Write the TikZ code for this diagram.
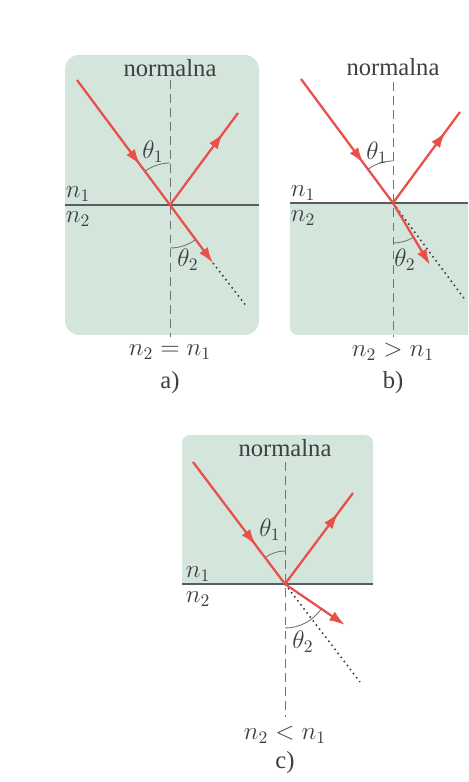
\documentclass[tikz,border=0pt]{standalone}
\usepackage{amsmath,amssymb}
\usepackage{fontspec}
\setmainfont{Liberation Serif}
\usepackage{xcolor}
\usepackage{tikz}
\usetikzlibrary{calc,angles,arrows.meta,decorations.markings}
\definecolor{paper}{HTML}{FFFFFF}
\definecolor{medium}{HTML}{D4E6DC}
\definecolor{ray}{HTML}{E9504A}
\definecolor{ink}{HTML}{3C4045}
\definecolor{muted}{HTML}{6E7479}
\tikzset{
  boxfill/.style={fill=medium},
  iface/.style={draw=muted!80!black, line width=0.9pt},
  normal/.style={draw=muted, dashed, dash pattern=on 5pt off 3pt, line width=0.5pt},
  ghost/.style={draw=ink, dotted, line width=0.9pt},
  beam/.style={draw=ray, line width=1.3pt},
  midarrow/.style={beam, postaction={decorate}, decoration={markings,
      mark=at position #1 with {\arrow{Latex[length=9pt,width=6pt]}}}},
  endarrow/.style={beam, -{Latex[length=9pt,width=6pt]}},
  anglearc/.style={draw=muted, line width=0.5pt},
  lab/.style={text=ink, font=\fontsize{14}{16}\selectfont, inner sep=1pt},
  labm/.style={text=ink, font=\fontsize{14}{16}\selectfont, inner sep=1pt},
}

\begin{document}
\begin{tikzpicture}[x=0.02cm, y=0.02cm]
  \useasboundingbox[fill=paper] (0,0) rectangle (468,782);

  % --- a) n2 = n1
  \fill[boxfill, rounded corners=8] (65,447) rectangle (259,727);
  \coordinate (Oa) at (170,577);
  \coordinate (Na) at (170,702);
  \coordinate (Da) at (170,445);
  \coordinate (Ia) at (77,702);
  \coordinate (Ra) at (238,669);
  \coordinate (Ta) at (213,519);
  \coordinate (Ga) at (247,475);
  \coordinate (La) at (65,577);
  \coordinate (Ka) at (259,577);

  \draw[normal] (Na) -- (Da);
  \draw[iface] (La) -- (Ka);
  \draw[ghost] (Ta) -- (Ga);
  \pic[anglearc, angle radius=42*0.02cm] {angle = Na--Oa--Ia};
  \pic[anglearc, angle radius=43*0.02cm] {angle = Da--Oa--Ta};
  \draw[midarrow=0.68] (Ia) -- (Oa);
  \draw[midarrow=0.78] (Oa) -- (Ra);
  \draw[endarrow] (Oa) -- (Ta);

  \node[lab] (normA) at (170,714) {normalna};
  \node[labm] (n1a) at (78,588) {$n_1$};
  \node[labm] (n2a) at (78,563) {$n_2$};
  \node[labm] (t1a) at (153,630) {$\theta_1$};
  \node[labm] (t2a) at (188,522) {$\theta_2$};
  \node[labm] (capA) at (170,430) {$n_2 = n_1$};
  \node[lab] (tagA) at (170,399) {a)};

  % --- b) n2 > n1
  \fill[boxfill] (468,579) -- (290,579) -- (290,455)
    arc[start angle=180, end angle=270, radius=8] -- (468,447) -- cycle;
  \coordinate (Ob) at (393,579);
  \coordinate (Nb) at (393,700);
  \coordinate (Db) at (393,445);
  \coordinate (Ib) at (301,703);
  \coordinate (Rb) at (460,670);
  \coordinate (Tb) at (430,517);
  \coordinate (Gb) at (466,481);
  \coordinate (Lb) at (290,579);
  \coordinate (Kb) at (468,579);

  \draw[normal] (Nb) -- (Db);
  \draw[iface] (Lb) -- (Kb);
  \draw[ghost] (Ob) -- (Gb);
  \pic[anglearc, angle radius=42*0.02cm] {angle = Nb--Ob--Ib};
  \pic[anglearc, angle radius=40*0.02cm] {angle = Db--Ob--Tb};
  \draw[midarrow=0.68] (Ib) -- (Ob);
  \draw[midarrow=0.78] (Ob) -- (Rb);
  \draw[endarrow] (Ob) -- (Tb);

  \node[lab] (normB) at (393,715) {normalna};
  \node[labm] (n1b) at (303,589) {$n_1$};
  \node[labm] (n2b) at (303,564) {$n_2$};
  \node[labm] (t1b) at (377,629) {$\theta_1$};
  \node[labm] (t2b) at (405,522) {$\theta_2$};
  \node[labm] (capB) at (393,430) {$n_2 > n_1$};
  \node[lab] (tagB) at (393,399) {b)};

  % --- c) n2 < n1
  \fill[boxfill] (182,198) -- (182,339)
    arc[start angle=180, end angle=90, radius=8] -- (365,347)
    arc[start angle=90, end angle=0, radius=8] -- (373,198) -- cycle;
  \coordinate (Oc) at (285,198);
  \coordinate (Nc) at (285,320);
  \coordinate (Dc) at (285,65);
  \coordinate (Ic) at (193,320);
  \coordinate (Rc) at (353,289);
  \coordinate (Tc) at (345,157);
  \coordinate (Gc) at (360,100);
  \coordinate (Lc) at (182,198);
  \coordinate (Kc) at (373,198);

  \draw[normal] (Nc) -- (Dc);
  \draw[iface] (Lc) -- (Kc);
  \draw[ghost] (Oc) -- (Gc);
  \pic[anglearc, angle radius=33*0.02cm] {angle = Nc--Oc--Ic};
  \pic[anglearc, angle radius=44*0.02cm] {angle = Dc--Oc--Tc};
  \draw[midarrow=0.68] (Ic) -- (Oc);
  \draw[midarrow=0.78] (Oc) -- (Rc);
  \draw[endarrow] (Oc) -- (Tc);

  \node[lab] (normC) at (285,334) {normalna};
  \node[labm] (n1c) at (198,208) {$n_1$};
  \node[labm] (n2c) at (198,183) {$n_2$};
  \node[labm] (t1c) at (270,252) {$\theta_1$};
  \node[labm] (t2c) at (303,140) {$\theta_2$};
  \node[labm] (capC) at (285,47) {$n_2 < n_1$};
  \node[lab] (tagC) at (285,19) {c)};
\end{tikzpicture}
\end{document}
